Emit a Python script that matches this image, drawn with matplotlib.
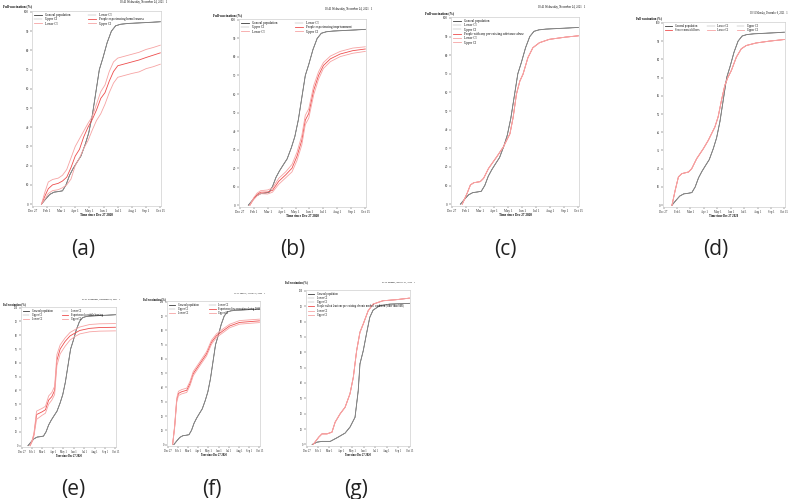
import matplotlib
matplotlib.use("Agg")
import matplotlib.pyplot as plt

W, H = 791, 499

# x axis: equally spaced month ticks (0 = Dec 27 ... 9 = Oct 15)
month_labels = ["Dec 27", "Feb 1", "Mar 1", "Apr 1", "May 1", "Jun 1",
                "Jul 1", "Aug 1", "Sep 1", "Oct 15"]
y_ticks = [0, 10, 20, 30, 40, 50, 60, 70, 80, 90, 100]

# general population (panels a-f)
gen_x = [0.62, 0.9, 1.2, 1.5, 1.8, 2.1, 2.35, 2.6, 2.85, 3.1, 3.4, 3.7, 3.95, 4.2,
         4.45, 4.7, 4.95, 5.25, 5.55, 5.85, 6.2, 6.7, 7.5, 8.3, 9.0]
gen_y = [0, 2.5, 5.0, 6.2, 6.5, 6.9, 10, 15, 18.5, 21.5, 25, 31, 37, 46,
         58, 70, 76, 84, 90, 92.8, 93.6, 94, 94.3, 94.6, 94.9]

# (a) homelessness
a_x = [0.62, 0.85, 1.1, 1.4, 1.8, 2.1, 2.4, 2.7, 3.0, 3.3, 3.6, 3.9, 4.2, 4.5, 4.8,
       5.1, 5.4, 5.7, 6.0, 6.5, 7.0, 7.5, 8.0, 8.5, 9.0]
a_mid = [0, 4, 8, 10, 10.8, 12, 14, 19, 25, 28.5, 35, 40, 44, 49, 55,
         58, 64, 69, 72, 73, 74, 75, 76.3, 77.5, 78.7]
a_up = [0, 6, 11.5, 12.8, 13.5, 15, 18, 24, 30, 34, 38, 42, 45.5, 52, 58.5,
        62, 69, 74, 76, 77, 78, 79, 80.5, 81.5, 82.7]
a_lo = [0, 2.5, 5.5, 7, 7.5, 8.5, 10, 13, 20, 24, 29, 33, 38.5, 43.5, 47,
        52, 58, 63, 66, 67, 68, 68.8, 70.5, 71.5, 72.8]

# (b) imprisonment
b_x = [0.73, 1.0, 1.25, 1.5, 2.0, 2.35, 2.8, 3.3, 3.75, 4.1, 4.45, 4.7, 4.95, 5.3,
       5.65, 6.0, 6.5, 7.2, 8.1, 9.0]
b_mid = [0, 3.5, 5.8, 7.0, 7.1, 8, 12.9, 16.4, 20, 26.3, 35, 45.9, 49.5, 62,
         70, 75.4, 79, 81.6, 83.4, 84.3]
b_up = [0, 4, 6.5, 7.8, 8.2, 9.2, 14.5, 18, 22, 28.5, 37.5, 48.5, 52, 64.5,
        72, 77, 80.5, 83, 84.8, 85.5]
b_lo = [0, 3, 5, 6.2, 6, 7, 11.3, 14.8, 18, 24, 32.5, 43.5, 47, 59.5,
        68, 73.8, 77.5, 80.2, 82, 83]

# (c) substance abuse
c_x = [0.75, 1.1, 1.33, 1.57, 2.03, 2.27, 2.62, 3.2, 3.67, 4.14, 4.37, 4.6, 4.84,
       5.07, 5.42, 5.77, 6.24, 6.94, 8.1, 9.0]
c_mid = [0, 5.9, 10.3, 11.5, 12.1, 13.9, 19.2, 25.4, 30.7, 37.8, 46.7, 59, 66,
         69.8, 78.7, 84, 86.7, 88.5, 89.7, 90.4]

# (d) severe mental illness
d_x = [0.62, 0.86, 1.1, 1.35, 1.85, 2.09, 2.46, 2.96, 3.33, 3.82, 4.06, 4.31, 4.56,
       4.8, 5.05, 5.42, 5.79, 6.16, 6.9, 7.88, 9.0]
d_mid = [0, 8.2, 15.5, 17.3, 18.2, 20, 25.5, 31, 35.6, 42.9, 48.4, 57.5, 65.7,
         70.3, 73.9, 81.2, 85.8, 87.6, 89, 90, 90.9]

# (e)
e_x = [0.82, 1.0, 1.19, 1.44, 1.97, 2.29, 2.6, 2.9, 3.17, 3.39, 3.7, 4.17, 4.64,
       5.1, 5.58, 6.52, 7.46, 9.0]
e_mid = [0, 3, 8, 22.5, 24.5, 26, 33, 35.5, 40, 62, 70, 75.5, 79.5,
         81.5, 83.5, 85, 85.6, 85.8]
e_up = [0, 3.5, 9, 25, 27, 28.5, 36, 38.5, 43, 66, 73, 78, 82,
        84, 86, 87.8, 88.3, 88.5]
e_lo = [0, 2.5, 7, 19, 22, 23.5, 30, 33, 37, 58, 66.5, 72, 76.5,
        79, 81, 82.5, 83, 83.2]

# (f)
f_x = [0.5, 0.7, 0.9, 1.07, 1.39, 1.88, 2.2, 2.52, 3.17, 3.82, 4.3, 4.79, 5.44,
       6.08, 7.05, 9.0]
f_mid = [0, 12.7, 31, 35.8, 37, 38, 42.7, 49.7, 56.6, 63.5, 71.6, 76.2, 79.7,
         83, 85.5, 86.6]
f_up = [0, 13.5, 32.5, 37.3, 38.5, 39.5, 44.2, 51.2, 58, 65, 73, 77.5, 81,
        84.2, 86.8, 87.8]
f_lo = [0, 11.8, 29.5, 34.3, 35.5, 36.5, 41.2, 48.2, 55.2, 62, 70.2, 75, 78.4,
        81.8, 84.3, 85.4]

# (g) chronic medical condition, own general population curve
g_gen_x = [0.49, 0.92, 1.35, 2.07, 2.65, 3.37, 3.8, 4.24, 4.52, 4.67, 4.96, 5.24,
           5.53, 5.82, 6.4, 7.26, 9.0]
g_gen_y = [0, 1.5, 2, 2, 4.3, 7.4, 11.3, 17.7, 35, 52.4, 61, 71.9,
           82.7, 87.4, 90.3, 91.3, 91.8]
g_x = [0.58, 1.07, 1.35, 1.79, 2.22, 2.5, 2.94, 3.37, 3.8, 4.09, 4.38, 4.67, 4.96,
       5.39, 5.82, 6.68, 7.84, 9.0]
g_mid = [0, 4.8, 6.9, 6.9, 8, 14.5, 20, 24.2, 33, 43.7, 61, 73, 78.4,
         87, 91.3, 93.5, 94.2, 95.2]

BLACK = "#3a3a3a"
GRAY = "#9a9a9a"
RED = "#ee4c4c"
PINK = "#f6a3a3"
SERIF = "Liberation Serif"


def px_box(l, t, r, b):
    return [l / W, 1 - b / H, (r - l) / W, (b - t) / H]


def ftext(x, y, s, **kw):
    fig.text(x / W, 1 - y / H, s, **kw)


def panel(box, ylab_xy, stamp_xy, stamp, gx, gy, gcx, gcy, glo, gup,
          name, ncol, fs, colsp):
    l, t, r, b = box
    ax = fig.add_axes(px_box(l, t, r, b))
    h = []
    h += ax.plot(gx, gy, color=BLACK, lw=0.6, label="General population")
    h += ax.plot(gx, gy, color=GRAY, lw=0.3, label="Lower CI")
    h += ax.plot(gx, gy, color=GRAY, lw=0.3, label="Upper CI")
    h += ax.plot(gcx, gcy, color=RED, lw=0.6, label=name)
    h += ax.plot(gcx, glo, color=PINK, lw=0.6, label="Lower CI")
    h += ax.plot(gcx, gup, color=PINK, lw=0.6, label="Upper CI")
    ax.set_xlim(-0.05, 9.05)
    ax.set_ylim(-1, 100.5)
    ax.set_xticks(range(10))
    ax.set_xticklabels(month_labels, fontsize=fs, family=SERIF)
    ax.set_yticks(y_ticks)
    ax.set_yticklabels([str(v) for v in y_ticks], fontsize=fs, family=SERIF)
    ax.tick_params(length=1.2, width=0.3, pad=1, colors="#222222")
    for sp in ax.spines.values():
        sp.set_color("#cfcfcf")
        sp.set_linewidth(0.5)
    # row-major legend order like the original
    n = len(h)
    nrow = (n + ncol - 1) // ncol
    order = [r_ * ncol + c for c in range(ncol) for r_ in range(nrow) if r_ * ncol + c < n]
    ax.legend([h[i] for i in order], [h[i].get_label() for i in order],
              ncol=ncol, loc="upper left", bbox_to_anchor=(0.0, 1.0),
              frameon=False, prop={"family": SERIF, "size": fs},
              handlelength=2.6, handletextpad=0.8, columnspacing=colsp,
              labelspacing=0.1, borderpad=0.2, borderaxespad=0.4)
    ftext(ylab_xy[0], ylab_xy[1], "Full vaccination (%)", fontsize=fs,
          family=SERIF, weight="bold", ha="left", va="center")
    ftext(stamp_xy[0], stamp_xy[1], stamp, fontsize=fs - 0.3, family=SERIF,
          ha="right", va="center")
    ftext((l + r) / 2, b + 9, "Time since Dec 27 2020", fontsize=fs,
          family=SERIF, weight="bold", ha="center", va="center")
    return ax


fig = plt.figure(figsize=(W / 100, H / 100), dpi=100)

nov24 = "00:41 Wednesday, November 24, 2021   1"

panel((32, 11, 161, 206), (3, 6), (167, 2), nov24,
      gen_x, gen_y, a_x, a_mid, a_lo, a_up,
      "People experiencing homelessness", 2, 2.3, 5.5)
panel((239, 19, 366, 207), (213, 15), (372, 9), nov24,
      gen_x, gen_y, b_x, b_mid, b_lo, b_up,
      "People experiencing imprisonment", 2, 2.3, 5.5)
panel((451, 17, 579, 206), (425, 13), (585, 7), nov24,
      gen_x, gen_y, c_x, c_mid, c_mid, c_mid,
      "People with any pre-existing substance abuse", 1, 2.3, 2)
panel((663, 22, 785, 207), (636, 18), (788, 13), "00:56 Monday, December 6, 2021   1",
      gen_x, gen_y, d_x, d_mid, d_mid, d_mid,
      "Severe mental illness", 3, 2.1, 2.8)
panel((21, 307, 116, 447), (3, 304), (120, 299), nov24,
      gen_x, gen_y, e_x, e_mid, e_lo, e_up,
      "Experienced unstable housing", 2, 1.9, 3.5)
panel((167, 301, 260, 446), (143, 299), (265, 293), "10:17 Sunday, January 9, 2022   1",
      gen_x, gen_y, f_x, f_mid, f_lo, f_up,
      "Experienced incarceration during 2021", 2, 1.9, 4)
panel((306, 290, 410, 446), (285, 282), (415, 282), "00:54 Monday, January 31, 2022   1",
      g_gen_x, g_gen_y, g_x, g_mid, g_mid, g_mid,
      "People with at least one pre-existing chronic medical condition (other than SMI)", 1, 1.9, 2)

captions = ["(a)", "(b)", "(c)", "(d)", "(e)", "(f)", "(g)"]
cap_x = [83, 293, 505, 716, 73, 212, 356]
cap_y = [249, 249, 249, 249, 490, 490, 490]
for s, x, y in zip(captions, cap_x, cap_y):
    ftext(x, y, s, fontsize=15, family="Open Sans", ha="center", va="center",
          color="#222222")

fig.savefig("out.png", dpi=100, facecolor="white")
